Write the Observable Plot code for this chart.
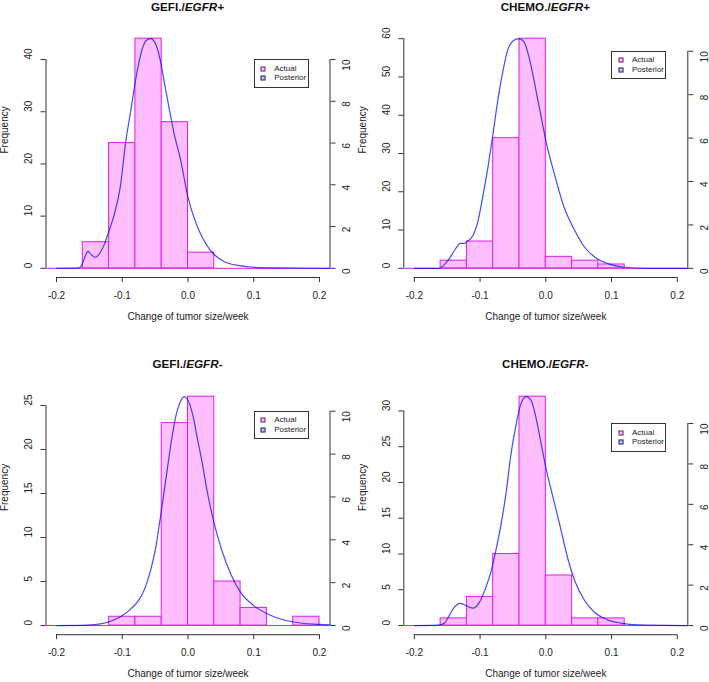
<!DOCTYPE html>
<html>
<head>
<meta charset="utf-8">
<script src="https://cdn.jsdelivr.net/npm/d3@7"></script>
<script src="https://cdn.jsdelivr.net/npm/@observablehq/plot@0.6"></script>
<style>
  body { margin: 0; background: #fff; }
  #wrap { position: relative; width: 709px; height: 682px; overflow: hidden; font-family: "Liberation Sans", Arial, Helvetica, sans-serif; }
  .panel { position: absolute; }
  .title { position: absolute; font-weight: bold; font-size: 11.7px; color: #111; transform: translate(-50%, -50%); white-space: nowrap; }
  .legend { position: absolute; box-sizing: border-box; width: 55px; height: 28.5px; border: 1px solid #333; background: #fff; font-size: 8px; color: #222; }
  .legend .sw { position: absolute; width: 5px; height: 5px; box-sizing: border-box; border: 1px solid #444; transform: translate(-50%, -50%); }
  .legend .lb { position: absolute; transform: translateY(-50%); white-space: nowrap; line-height: 1; }
</style>
</head>
<body>
<div id="wrap"></div>
<script>
// ---------- data ----------
const breaks = [-0.16, -0.12, -0.08, -0.04, 0, 0.04, 0.08, 0.12, 0.16, 0.2];

const gefiPosCounts  = [5, 24, 44, 28, 3, 0, 0, 0, 0];
const chemoPosCounts = [2, 7, 34, 60, 3, 2, 1, 0, 0];
const gefiNegCounts  = [0, 1, 1, 23, 26, 5, 2, 0, 1];
const chemoNegCounts = [1, 4, 10, 32, 7, 1, 1, 0, 0];

// posterior density (right axis units)
const gefiPosX = [-0.2, -0.166, -0.162, -0.158, -0.152, -0.147, -0.141, -0.135, -0.127, -0.12, -0.112, -0.103, -0.095, -0.087, -0.079, -0.071, -0.064, -0.057, -0.05, -0.042, -0.036, -0.028, -0.021, -0.011, 0, 0.009, 0.019, 0.029, 0.04, 0.057, 0.078, 0.098, 0.13, 0.216];
const gefiPosD = [0, 0.02, 0.13, 0.45, 0.81, 0.65, 0.53, 0.69, 1.17, 1.8, 2.6, 3.9, 6.0, 7.56, 9.15, 10.35, 10.9, 11.0, 10.8, 9.95, 8.9, 7.55, 6.44, 5.16, 3.4, 2.44, 1.65, 1.09, 0.65, 0.29, 0.13, 0.05, 0.02, 0];

const chemoPosX = [-0.2, -0.162, -0.157, -0.149, -0.139, -0.13, -0.124, -0.119, -0.111, -0.103, -0.096, -0.088, -0.081, -0.073, -0.065, -0.058, -0.049, -0.041, -0.033, -0.027, -0.02, -0.012, -0.005, 0, 0.013, 0.028, 0.044, 0.059, 0.079, 0.099, 0.12, 0.15, 0.216];
const chemoPosD = [0, 0, 0.09, 0.35, 0.82, 1.15, 1.15, 1.25, 1.5, 2.2, 3.28, 4.66, 6.05, 7.74, 9.12, 10.05, 10.5, 10.58, 10.43, 9.9, 8.97, 7.74, 6.66, 5.9, 4.35, 2.8, 1.74, 0.97, 0.43, 0.17, 0.05, 0, 0];

const gefiNegX = [-0.2, -0.153, -0.133, -0.118, -0.102, -0.087, -0.077, -0.067, -0.057, -0.049, -0.042, -0.034, -0.026, -0.019, -0.011, -0.006, -0.001, 0.007, 0.014, 0.022, 0.029, 0.04, 0.05, 0.065, 0.08, 0.1, 0.121, 0.146, 0.171, 0.2, 0.216];
const gefiNegD = [0, 0.02, 0.08, 0.2, 0.42, 0.78, 1.09, 1.63, 2.56, 3.65, 5.05, 6.75, 8.46, 9.7, 10.48, 10.68, 10.56, 9.86, 8.77, 7.53, 6.29, 4.74, 3.65, 2.41, 1.55, 0.93, 0.54, 0.26, 0.12, 0.05, 0.03];

const chemoNegX = [-0.2, -0.164, -0.154, -0.147, -0.139, -0.131, -0.121, -0.111, -0.101, -0.091, -0.083, -0.076, -0.068, -0.06, -0.053, -0.045, -0.038, -0.03, -0.022, -0.015, -0.007, 0, 0.011, 0.021, 0.033, 0.044, 0.059, 0.074, 0.094, 0.114, 0.14, 0.216];
const chemoNegD = [0, 0.02, 0.12, 0.49, 0.91, 1.1, 0.99, 0.86, 1.15, 1.9, 2.72, 3.71, 5.02, 6.67, 8.48, 9.97, 10.96, 11.33, 11.12, 10.3, 8.98, 7.83, 6.34, 5.02, 3.38, 2.22, 1.24, 0.66, 0.28, 0.12, 0.03, 0];

const xTicks = [-0.2, -0.1, 0, 0.1, 0.2];
const densityTicks = [0, 2, 4, 6, 8, 10];
const gefiPosFreqTicks  = [0, 10, 20, 30, 40];
const chemoPosFreqTicks = [0, 10, 20, 30, 40, 50, 60];
const gefiNegFreqTicks  = [0, 5, 10, 15, 20, 25];
const chemoNegFreqTicks = [0, 5, 10, 15, 20, 25, 30];

const titlesLead = ["GEFI./", "CHEMO./", "GEFI./", "CHEMO./"];
const titlesItal = ["EGFR+", "EGFR+", "EGFR-", "EGFR-"];
const xLabel = "Change of tumor size/week";
const yLabel = "Frequency";
const legendLabels = ["Actual", "Posterior"];

// ---------- styles ----------
const barFill = "#FFBFFF", barStroke = "#E21DE2";
const lineColor = "blue";
const axisColor = "#333", textColor = "#222";
const fontFamily = '"Liberation Sans", Arial, Helvetica, sans-serif';

const panels = [
  {counts: gefiPosCounts,  dx: gefiPosX,  dd: gefiPosD,  ticks: gefiPosFreqTicks,  left: 0,   top: 0,   w: 354, h: 341, mL: 45.5, mR: 24.5, mT: 29, mB: 64,   titleDy: -23},
  {counts: chemoPosCounts, dx: chemoPosX, dd: chemoPosD, ticks: chemoPosFreqTicks, left: 354, top: 0,   w: 355, h: 341, mL: 49.3, mR: 21.7, mT: 29, mB: 64,   titleDy: -23},
  {counts: gefiNegCounts,  dx: gefiNegX,  dd: gefiNegD,  ticks: gefiNegFreqTicks,  left: 0,   top: 341, w: 354, h: 341, mL: 45.5, mR: 24.5, mT: 46, mB: 47.8, titleDy: -24.2},
  {counts: chemoNegCounts, dx: chemoNegX, dd: chemoNegD, ticks: chemoNegFreqTicks, left: 354, top: 341, w: 355, h: 341, mL: 49.3, mR: 21.7, mT: 46, mB: 47.8, titleDy: -24.2}
];

const wrap = document.getElementById("wrap");

panels.forEach((p, idx) => {
  const maxC = d3.max(p.counts);
  const k = maxC / d3.max(p.dd);
  const ext = (xTicks[xTicks.length - 1] - xTicks[0]) * 0.04;
  const xDom = [xTicks[0] - ext, xTicks[xTicks.length - 1] + ext];
  const yDom = [-0.04 * maxC, 1.04 * maxC];
  const bins = p.counts.map((c, i) => ({x1: breaks[i], x2: breaks[i + 1], c})).filter(b => b.c > 0);
  const curve = p.dx.map((x, i) => ({x, y: p.dd[i] * k}));
  const fTicks = p.ticks;

  const plot = Plot.plot({
    width: p.w, height: p.h,
    marginLeft: p.mL, marginRight: p.mR, marginTop: p.mT, marginBottom: p.mB,
    x: {domain: xDom, label: null},
    y: {domain: yDom, label: null},
    style: {fontFamily, fontSize: "10px", color: textColor, background: "transparent", overflow: "visible"},
    marks: [
      Plot.ruleY([0], {x1: xDom[0], x2: xDom[1], stroke: barStroke, strokeWidth: 1}),
      Plot.rect(bins, {x1: "x1", x2: "x2", y1: () => 0, y2: "c", fill: barFill, stroke: barStroke, strokeWidth: 1}),
      Plot.line(curve, {x: "x", y: "y", stroke: lineColor, strokeOpacity: 0.72, strokeWidth: 1.2, curve: "monotone-x"}),
      // bottom axis
      Plot.ruleY([yDom[0]], {x1: xTicks[0], x2: xTicks[xTicks.length - 1], stroke: axisColor}),
      Plot.axisX(xTicks, {anchor: "bottom", tickSize: 5, tickPadding: 9, stroke: axisColor, fill: textColor, fontSize: 10, tickFormat: d => d.toFixed(1), label: null}),
      // left axis
      Plot.ruleX([xDom[0]], {y1: fTicks[0], y2: fTicks[fTicks.length - 1], stroke: axisColor}),
      Plot.axisY(fTicks, {anchor: "left", tickSize: 5, stroke: axisColor, tickFormat: () => "", label: null}),
      Plot.text(fTicks, {y: d => d, text: d => String(d), frameAnchor: "left", dx: -17, rotate: -90, fill: textColor, fontSize: 10}),
      // right axis (density)
      Plot.ruleX([xDom[1]], {y1: densityTicks[0] * k, y2: densityTicks[densityTicks.length - 1] * k, stroke: axisColor}),
      Plot.axisY(densityTicks.map(d => d * k), {anchor: "right", tickSize: 5, stroke: axisColor, tickFormat: () => "", label: null}),
      Plot.text(densityTicks, {y: d => d * k, text: d => String(d), frameAnchor: "right", dx: 17, rotate: -90, fill: textColor, fontSize: 10}),
      // axis titles
      Plot.text([xLabel], {text: d => d, frameAnchor: "bottom", dy: 42.5, fill: textColor, fontSize: 10}),
      Plot.text([yLabel], {text: d => d, frameAnchor: "left", dx: -41, rotate: -90, fill: textColor, fontSize: 10})
    ]
  });
  plot.classList.add("panel");
  plot.style.left = p.left + "px";
  plot.style.top = p.top + "px";
  wrap.appendChild(plot);

  // title
  const t = document.createElement("div");
  t.className = "title";
  t.innerHTML = `${titlesLead[idx]}<i>${titlesItal[idx]}</i>`;
  t.style.left = (p.left + (p.mL + p.w - p.mR) / 2) + "px";
  t.style.top = (p.top + p.mT + p.titleDy) + "px";
  wrap.appendChild(t);

  // legend
  const ys = plot.scale("y");
  const lg = document.createElement("div");
  lg.className = "legend";
  lg.style.left = (p.left + p.w - p.mR - 21 - 55) + "px";
  lg.style.top = (p.top + ys.apply(densityTicks[densityTicks.length - 1] * k)) + "px";
  const swFills = [barFill, "#BFBFFF"];
  const swStrokes = ["#6a2a6a", "#2a2a6a"];
  legendLabels.forEach((lab, j) => {
    const sw = document.createElement("div");
    sw.className = "sw";
    sw.style.left = "8.3px";
    sw.style.top = (8.7 + j * 9.3) + "px";
    sw.style.background = swFills[j];
    sw.style.borderColor = swStrokes[j];
    lg.appendChild(sw);
    const lb = document.createElement("div");
    lb.className = "lb";
    lb.textContent = lab;
    lb.style.left = "19.7px";
    lb.style.top = (8.7 + j * 9.3) + "px";
    lg.appendChild(lb);
  });
  wrap.appendChild(lg);
});
</script>
</body>
</html>
